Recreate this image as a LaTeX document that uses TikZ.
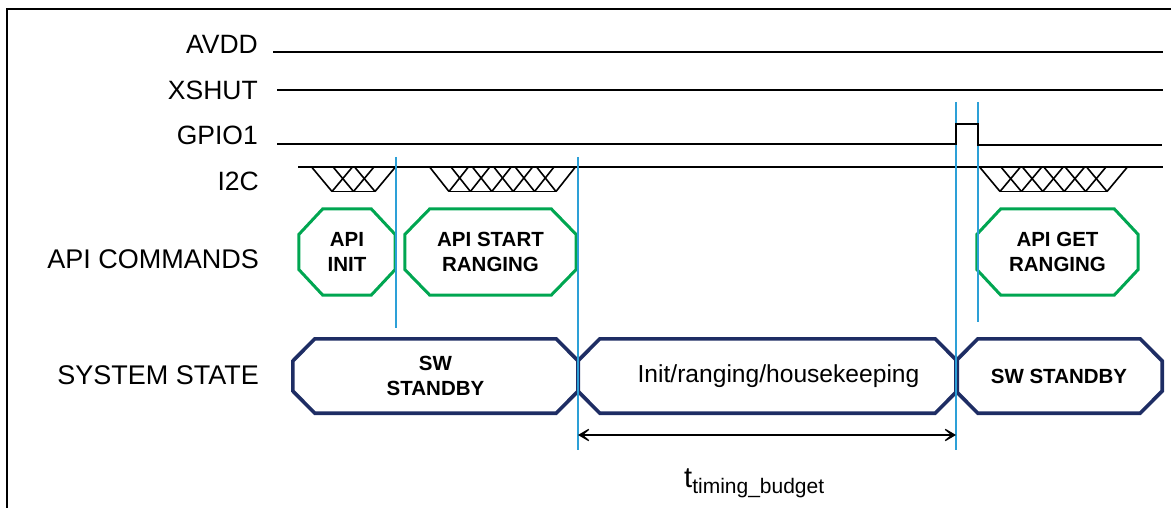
\documentclass[tikz,border=0pt]{standalone}
\usepackage{fontspec}
\setmainfont{Liberation Sans}
\usetikzlibrary{arrows.meta}
\definecolor{apigreen}{RGB}{0,166,81}
\definecolor{navy}{RGB}{30,45,100}
\definecolor{cutblue}{RGB}{45,160,215}
\newcommand\octbox[4]{\draw[#4] ([xshift=#2]#1.north west) -- ([xshift=-#2]#1.north east) -- ([yshift=#3]#1.east) -- ([yshift=-#3]#1.east) -- ([xshift=-#2]#1.south east) -- ([xshift=#2]#1.south west) -- ([yshift=-#3]#1.west) -- ([yshift=#3]#1.west) -- cycle;}
\tikzset{
  sig/.style={anchor=base east, inner sep=0pt, font=\fontsize{26.5}{30}\selectfont},
  wire/.style={line width=2pt, black},
  hatch/.style={line width=1.6pt, black},
  apibox/.style={inner sep=0pt, align=center, font=\fontsize{20.5}{25}\selectfont\bfseries, minimum height=86pt},
  statebox/.style={inner sep=0pt, align=center, font=\fontsize{20.5}{25}\selectfont\bfseries, minimum height=74pt},
  apiline/.style={apigreen, line width=3pt, line join=miter},
  stateline/.style={navy, line width=3.6pt, line join=miter},
  cutline/.style={cutblue, line width=1.8pt},
  budget/.style={{Stealth[length=17pt,width=20pt,inset=12pt]}-{Stealth[length=17pt,width=20pt,inset=12pt]}, line width=2pt}
}
\begin{document}
\begin{tikzpicture}[x=1pt,y=-1pt]
\useasboundingbox (0,0) rectangle (1171,508);
% frame
\draw[line width=2.5pt] (7,509) -- (7,9) -- (1172,9);
% signal labels
\node[sig] (lavdd) at (258,54) {AVDD};
\node[sig] (lxshut) at (258,100) {XSHUT};
\node[sig] (lgpio) at (258,145) {GPIO1};
\node[sig] (li2c) at (259,190) {I2C};
\node[sig,font=\fontsize{27}{30}\selectfont] (lapi) at (259,268) {API COMMANDS};
\node[sig,font=\fontsize{27}{30}\selectfont] (lsys) at (259,384) {SYSTEM STATE};
% waveforms
\draw[wire] (273,52.5) -- (1163,52.5);
\draw[wire] (277,90.5) -- (1163,90.5);
\draw[wire] (298,167.5) -- (1163,167.5);
\foreach \a/\b/\w/\n in {312/395/20/3, 430/575/19/6, 980/1127/20/6} {
  \pgfmathsetmacro\d{(\b-\a-2*\w)/(\n-1)}
  \foreach \i in {1,...,\n} {
    \draw[hatch] ({\a+(\i-1)*\d},167.5) -- ({\a+(\i-1)*\d+\w},191.5);
    \draw[hatch] ({\b-(\i-1)*\d},167.5) -- ({\b-(\i-1)*\d-\w},191.5);
  }
  \draw[hatch] ({\a+\w},191.5) -- ({\b-\w},191.5);
}
% API command boxes
\node[apibox, minimum width=96pt] (apiinit) at (347,252) {API\\INIT};
\node[apibox, minimum width=171pt] (apistart) at (490.5,252) {API START\\RANGING};
\node[apibox, minimum width=161pt] (apiget) at (1057.5,252) {API GET\\RANGING};
\octbox{apiinit}{24}{17.5}{apiline}
\octbox{apistart}{25}{17.5}{apiline}
\octbox{apiget}{24}{17.5}{apiline}
% system state boxes
\node[statebox, minimum width=285pt] (sw1) at (435.5,376) {SW\\STANDBY};
\node[statebox, minimum width=379pt] (busy) at (767.5,376) {};
\node[font=\fontsize{24.6}{28}\selectfont, inner sep=0pt] (busytxt) at ([xshift=11pt]busy.center) {Init/ranging/housekeeping};
\node[statebox, minimum width=206pt] (sw2) at (1059,376) {SW STANDBY};
\octbox{sw1}{22}{15}{stateline}
\octbox{busy}{22}{15}{stateline}
\octbox{sw2}{22}{15}{stateline}
% blue cut lines
\coordinate (c1t) at (396,157); \coordinate (c1b) at (396,328);
\coordinate (c2t) at (578,157); \coordinate (c2b) at (578,450);
\coordinate (c3t) at (956,102); \coordinate (c3b) at (956,450);
\coordinate (c4t) at (978,102); \coordinate (c4b) at (978,322);
\draw[cutline] (c1t) -- (c1b);
\draw[cutline] (c2t) -- (c2b);
\draw[cutline] (c3t) -- (c3b);
\draw[cutline] (c4t) -- (c4b);
% GPIO1 with pulse (on top of cut lines)
\draw[wire, line join=miter] (277,144.5) -- (956,144.5) -- (956,124) -- (978,124) -- (978,145.5) -- (1162,145.5);
% timing budget
\coordinate (ar1) at (578,435);
\coordinate (ar2) at (956,435);
\draw[budget] (ar1) -- (ar2);
\node[anchor=base west, inner sep=0pt] (tlabel) at (684,487) {\fontsize{29}{30}\selectfont t\raisebox{-6pt}{\fontsize{21}{24}\selectfont timing\_budget}};
\end{tikzpicture}
\end{document}
